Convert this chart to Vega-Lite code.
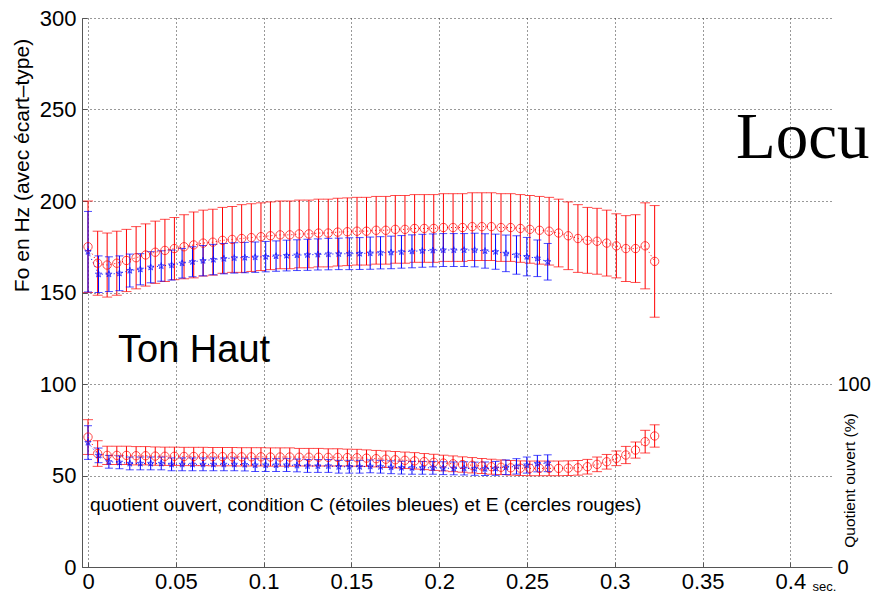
{
  "$schema": "https://vega.github.io/schema/vega-lite/v6.json",
  "width": 750,
  "height": 549,
  "autosize": {"type": "none"},
  "padding": {"left": 82, "top": 18, "right": 40, "bottom": 29},
  "background": "#ffffff",
  "config": {
    "view": {"stroke": null},
    "font": "Liberation Sans",
    "axis": {"labelFont": "Liberation Sans", "titleFont": "Liberation Sans", "labelColor": "#000000", "titleColor": "#000000", "titleFontWeight": "normal"}
  },
  "datasets": {
    "E": [
      {"t":0,"f":175,"fe":25,"q":71,"qe":9.5},
      {"t":0.0055,"f":166,"fe":17.5,"q":62,"qe":7},
      {"t":0.0109,"f":165,"fe":17.5,"q":61,"qe":5},
      {"t":0.0164,"f":166,"fe":17.5,"q":61,"qe":5},
      {"t":0.0219,"f":167.5,"fe":17,"q":61,"qe":5},
      {"t":0.0274,"f":169,"fe":17,"q":60.8,"qe":5},
      {"t":0.0328,"f":170.5,"fe":17,"q":60.8,"qe":5},
      {"t":0.0383,"f":172,"fe":17,"q":60.6,"qe":5},
      {"t":0.0438,"f":173,"fe":17,"q":60.5,"qe":5},
      {"t":0.0492,"f":174,"fe":17,"q":60.5,"qe":5},
      {"t":0.0547,"f":175,"fe":17.5,"q":60.4,"qe":5},
      {"t":0.0602,"f":176,"fe":18,"q":60.4,"qe":5},
      {"t":0.0656,"f":177,"fe":18,"q":60.4,"qe":5},
      {"t":0.0711,"f":177.5,"fe":18,"q":60.3,"qe":5},
      {"t":0.0766,"f":178.5,"fe":18,"q":60.3,"qe":5},
      {"t":0.0821,"f":179,"fe":18,"q":60.3,"qe":5},
      {"t":0.0875,"f":179.5,"fe":18.5,"q":60.2,"qe":5},
      {"t":0.093,"f":180,"fe":18.5,"q":60.2,"qe":5},
      {"t":0.0985,"f":180.5,"fe":18.5,"q":60.2,"qe":5},
      {"t":0.1039,"f":181,"fe":18.5,"q":60.1,"qe":5},
      {"t":0.1094,"f":181.5,"fe":18.5,"q":60.1,"qe":5},
      {"t":0.1149,"f":181.5,"fe":18.5,"q":60.1,"qe":5},
      {"t":0.1203,"f":182,"fe":18.5,"q":60,"qe":4.8},
      {"t":0.1258,"f":182,"fe":18.5,"q":60,"qe":4.8},
      {"t":0.1313,"f":182.5,"fe":18.5,"q":60,"qe":4.8},
      {"t":0.1368,"f":182.5,"fe":18.5,"q":59.9,"qe":4.7},
      {"t":0.1422,"f":183,"fe":18.5,"q":59.9,"qe":4.7},
      {"t":0.1477,"f":183.2,"fe":18.5,"q":59.8,"qe":4.6},
      {"t":0.1532,"f":183.5,"fe":18.5,"q":59.7,"qe":4.6},
      {"t":0.1586,"f":183.5,"fe":18.5,"q":59.5,"qe":4.5},
      {"t":0.1641,"f":184,"fe":18.5,"q":59.2,"qe":4.5},
      {"t":0.1696,"f":184,"fe":18.5,"q":58.9,"qe":4.5},
      {"t":0.175,"f":184.5,"fe":18.5,"q":58.6,"qe":4.5},
      {"t":0.1805,"f":184.5,"fe":18.5,"q":58.3,"qe":4.5},
      {"t":0.186,"f":185,"fe":18.5,"q":58,"qe":4.5},
      {"t":0.1915,"f":185,"fe":18.5,"q":57.6,"qe":4.4},
      {"t":0.1969,"f":185,"fe":18.5,"q":57.2,"qe":4.4},
      {"t":0.2024,"f":185.5,"fe":18.5,"q":56.8,"qe":4.3},
      {"t":0.2079,"f":185.5,"fe":18.5,"q":56.4,"qe":4.3},
      {"t":0.2133,"f":185.5,"fe":18.5,"q":56,"qe":4.2},
      {"t":0.2188,"f":186,"fe":18.5,"q":55.6,"qe":4.2},
      {"t":0.2243,"f":186,"fe":18.5,"q":55.2,"qe":4.1},
      {"t":0.2297,"f":186,"fe":18.5,"q":54.8,"qe":4.1},
      {"t":0.2352,"f":185.5,"fe":18.5,"q":54.5,"qe":4},
      {"t":0.2407,"f":185.5,"fe":18.5,"q":54.2,"qe":4},
      {"t":0.2462,"f":185,"fe":18.5,"q":54,"qe":4},
      {"t":0.2516,"f":184.5,"fe":18.5,"q":53.9,"qe":4},
      {"t":0.2571,"f":184,"fe":18.5,"q":53.9,"qe":4},
      {"t":0.2626,"f":183.5,"fe":18.5,"q":53.9,"qe":4},
      {"t":0.268,"f":182.5,"fe":18.5,"q":53.9,"qe":4},
      {"t":0.2735,"f":181,"fe":18.5,"q":54,"qe":4},
      {"t":0.279,"f":179.5,"fe":18.5,"q":54.2,"qe":4},
      {"t":0.2844,"f":178.5,"fe":18,"q":54.8,"qe":4},
      {"t":0.2899,"f":178,"fe":18,"q":56.1,"qe":4},
      {"t":0.2954,"f":177,"fe":18,"q":57.5,"qe":4},
      {"t":0.3009,"f":175.5,"fe":17.5,"q":59.4,"qe":4},
      {"t":0.3063,"f":174,"fe":18,"q":61.2,"qe":4.7},
      {"t":0.3118,"f":174,"fe":18.5,"q":63.9,"qe":4.4},
      {"t":0.3173,"f":175.5,"fe":23.5,"q":68.5,"qe":6.2},
      {"t":0.3227,"f":167,"fe":30.5,"q":71.6,"qe":6.1}
    ],
    "C": [
      {"t":0,"f":172.3,"fe":22,"q":68,"qe":9.2},
      {"t":0.006,"f":160,"fe":10,"q":61,"qe":4},
      {"t":0.0119,"f":160,"fe":9.5,"q":57.5,"qe":3.5},
      {"t":0.0179,"f":160.5,"fe":9.5,"q":57.2,"qe":3.5},
      {"t":0.0238,"f":162,"fe":9,"q":56.6,"qe":3.5},
      {"t":0.0298,"f":162.7,"fe":8.5,"q":56.6,"qe":3.5},
      {"t":0.0357,"f":163.8,"fe":8.5,"q":56.6,"qe":3.5},
      {"t":0.0417,"f":164.5,"fe":8.3,"q":56.6,"qe":3.5},
      {"t":0.0476,"f":165,"fe":8.2,"q":56.1,"qe":3.5},
      {"t":0.0536,"f":166,"fe":8.1,"q":56.1,"qe":3.5},
      {"t":0.0595,"f":166.8,"fe":8.2,"q":56.1,"qe":3.5},
      {"t":0.0655,"f":167.4,"fe":8.3,"q":56.1,"qe":3.5},
      {"t":0.0714,"f":168,"fe":8.3,"q":56.1,"qe":3.5},
      {"t":0.0774,"f":168.5,"fe":8.3,"q":56.1,"qe":3.5},
      {"t":0.0833,"f":168.9,"fe":8.3,"q":56.1,"qe":3.5},
      {"t":0.0893,"f":169.1,"fe":8.3,"q":56,"qe":3.5},
      {"t":0.0952,"f":169.3,"fe":8.3,"q":55.7,"qe":3.5},
      {"t":0.1012,"f":169.6,"fe":8.3,"q":55.7,"qe":3.5},
      {"t":0.1071,"f":169.9,"fe":8.3,"q":55.7,"qe":3.5},
      {"t":0.1131,"f":170.2,"fe":8.4,"q":55.7,"qe":3.5},
      {"t":0.119,"f":170.4,"fe":8.4,"q":55.5,"qe":3.5},
      {"t":0.125,"f":170.6,"fe":8.5,"q":55.2,"qe":3.5},
      {"t":0.1309,"f":170.8,"fe":8.5,"q":55.2,"qe":3.5},
      {"t":0.1369,"f":171,"fe":8.6,"q":55.2,"qe":3.5},
      {"t":0.1428,"f":171.1,"fe":8.6,"q":54.8,"qe":3.5},
      {"t":0.1488,"f":171.2,"fe":8.7,"q":54.8,"qe":3.5},
      {"t":0.1547,"f":171.3,"fe":8.7,"q":54.8,"qe":3.5},
      {"t":0.1607,"f":171.5,"fe":8.8,"q":55,"qe":3.5},
      {"t":0.1666,"f":171.7,"fe":8.8,"q":54.8,"qe":3.5},
      {"t":0.1726,"f":171.9,"fe":8.9,"q":54.5,"qe":3.5},
      {"t":0.1785,"f":172.2,"fe":8.9,"q":54.3,"qe":3.5},
      {"t":0.1845,"f":172.5,"fe":9,"q":54.2,"qe":3.5},
      {"t":0.1904,"f":172.8,"fe":9,"q":54.2,"qe":3.5},
      {"t":0.1964,"f":173,"fe":9,"q":54.2,"qe":3.5},
      {"t":0.2023,"f":173.2,"fe":9,"q":54,"qe":3.5},
      {"t":0.2083,"f":173.2,"fe":9,"q":53.9,"qe":3.5},
      {"t":0.2142,"f":173.2,"fe":9,"q":53.9,"qe":3.6},
      {"t":0.2202,"f":173.2,"fe":9.2,"q":53.7,"qe":3.6},
      {"t":0.2261,"f":172.7,"fe":9.4,"q":53.7,"qe":3.7},
      {"t":0.2321,"f":172.3,"fe":9.6,"q":53.9,"qe":3.8},
      {"t":0.238,"f":171.4,"fe":10,"q":54.5,"qe":4},
      {"t":0.244,"f":170.5,"fe":10.5,"q":55,"qe":4.2},
      {"t":0.2499,"f":169.6,"fe":10.5,"q":55.7,"qe":4.4},
      {"t":0.2559,"f":168.7,"fe":10,"q":56.5,"qe":4.5},
      {"t":0.2618,"f":166.8,"fe":10,"q":56.7,"qe":4.6}
    ]
  },
  "encoding": {
    "x": {"field": "t", "type": "quantitative",
      "scale": {"domain": [-0.00342, 0.4237], "nice": false, "zero": false},
      "axis": {"values": [0, 0.05, 0.1, 0.15, 0.2, 0.25, 0.3, 0.35, 0.4], "format": "~g",
        "title": "sec.", "titleX": 730, "titleY": 23, "titleAlign": "left", "titleBaseline": "alphabetic", "titleFontSize": 13,
        "labelFontSize": 22, "labelPadding": 9, "labelFlush": false, "labelOverlap": false,
        "grid": true, "gridDash": [1, 3], "gridColor": "#333333", "gridWidth": 1,
        "domainColor": "#555555", "tickColor": "#555555", "tickSize": -5}}
  },
  "resolve": {"scale": {"y": "independent"}},
  "layer": [
    {
      "encoding": {
        "y": {"field": "f", "type": "quantitative",
          "scale": {"domain": [0, 300], "nice": false, "zero": false},
          "axis": {"values": [0, 50, 100, 150, 200, 250, 300],
            "title": "Fo en Hz (avec écart–type)", "titleX": -54, "titleY": 147, "titleAngle": 270, "titleAlign": "center", "titleBaseline": "alphabetic", "titleFontSize": 21,
            "labelFontSize": 22, "labelPadding": 11, "labelOverlap": false, "labelFlush": false,
            "grid": true, "gridDash": [1, 3], "gridColor": "#333333", "gridWidth": 1,
            "domainColor": "#555555", "tickColor": "#555555", "tickSize": -5}}
      },
      "layer": [
        {"data": {"name": "E"}, "mark": {"type": "errorbar", "color": "#ff0000", "thickness": 1, "ticks": {"size": 10, "thickness": 1}}, "encoding": {"yError": {"field": "fe"}}},
        {"data": {"name": "C"}, "mark": {"type": "errorbar", "color": "#0000ff", "thickness": 1, "ticks": {"size": 8, "thickness": 1}}, "encoding": {"yError": {"field": "fe"}}},
        {"data": {"name": "E"}, "mark": {"type": "line", "color": "#ff0000", "strokeWidth": 1, "strokeDash": [1, 3]}},
        {"data": {"name": "C"}, "mark": {"type": "line", "color": "#0000ff", "strokeWidth": 1, "strokeDash": [1, 3]}},
        {"data": {"name": "E"}, "mark": {"type": "point", "shape": "circle", "filled": false, "color": "#ff0000", "size": 70, "strokeWidth": 1}},
        {"data": {"name": "C"}, "mark": {"type": "point", "shape": "M0,-1L0.22,-0.31L0.95,-0.31L0.36,0.12L0.59,0.81L0,0.38L-0.59,0.81L-0.36,0.12L-0.95,-0.31L-0.22,-0.31Z", "filled": false, "color": "#0000ff", "size": 45, "strokeWidth": 1}}
      ]
    },
    {
      "encoding": {
        "y": {"field": "q", "type": "quantitative",
          "scale": {"domain": [0, 300], "nice": false, "zero": false},
          "axis": {"orient": "right", "values": [0, 100], "title": "Quotient ouvert (%)",
            "titleX": 22, "titleY": 462, "titleAngle": 270, "titleAlign": "center", "titleBaseline": "alphabetic", "titleFontSize": 15.5,
            "labelFontSize": 20, "labelPadding": 5, "labelOverlap": false, "labelFlush": false,
            "grid": false, "domain": false, "ticks": false}}
      },
      "layer": [
        {"data": {"name": "E"}, "mark": {"type": "errorbar", "color": "#ff0000", "thickness": 1, "ticks": {"size": 10, "thickness": 1}}, "encoding": {"yError": {"field": "qe"}}},
        {"data": {"name": "C"}, "mark": {"type": "errorbar", "color": "#0000ff", "thickness": 1, "ticks": {"size": 8, "thickness": 1}}, "encoding": {"yError": {"field": "qe"}}},
        {"data": {"name": "E"}, "mark": {"type": "line", "color": "#ff0000", "strokeWidth": 1, "strokeDash": [1, 3]}},
        {"data": {"name": "C"}, "mark": {"type": "line", "color": "#0000ff", "strokeWidth": 1, "strokeDash": [1, 3]}},
        {"data": {"name": "E"}, "mark": {"type": "point", "shape": "circle", "filled": false, "color": "#ff0000", "size": 70, "strokeWidth": 1}},
        {"data": {"name": "C"}, "mark": {"type": "point", "shape": "M0,-1L0.22,-0.31L0.95,-0.31L0.36,0.12L0.59,0.81L0,0.38L-0.59,0.81L-0.36,0.12L-0.95,-0.31L-0.22,-0.31Z", "filled": false, "color": "#0000ff", "size": 45, "strokeWidth": 1}}
      ]
    },
    {
      "data": {"values": [
        {"t": 0.0171, "y": 112, "label": "Ton Haut", "kind": "a"},
        {"t": 0.0011, "y": 30.6, "label": "quotient ouvert, condition C (étoiles bleues) et E (cercles rouges)", "kind": "b"}
      ]},
      "mark": {"type": "text", "align": "left", "baseline": "alphabetic", "font": "Liberation Sans", "color": "#000000"},
      "encoding": {
        "y": {"field": "y", "type": "quantitative", "scale": {"domain": [0, 300], "nice": false, "zero": false}, "axis": null},
        "text": {"field": "label"},
        "size": {"field": "kind", "type": "nominal", "scale": {"domain": ["a", "b"], "range": [38, 19.2]}, "legend": null}
      }
    },
    {
      "data": {"values": [{"t": 0.369, "y": 223.3, "label": "Locu"}]},
      "mark": {"type": "text", "align": "left", "baseline": "alphabetic", "font": "Liberation Serif", "fontSize": 65, "color": "#000000"},
      "encoding": {
        "y": {"field": "y", "type": "quantitative", "scale": {"domain": [0, 300], "nice": false, "zero": false}, "axis": null},
        "text": {"field": "label"}
      }
    }
  ]
}
